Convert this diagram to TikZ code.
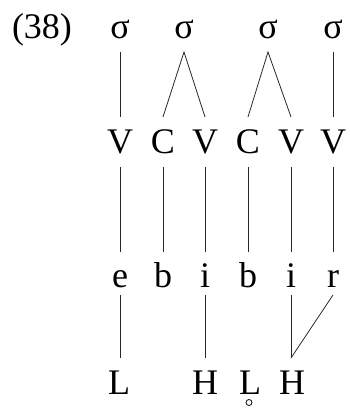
\documentclass[tikz,border=0pt]{standalone}
\usepackage{fontspec}
\setmainfont{Liberation Serif}
\usetikzlibrary{calc}
\begin{document}
\begin{tikzpicture}[x=1pt,y=-1pt,
  lab/.style={anchor=base,inner sep=0pt,font=\fontsize{36}{40}\selectfont},
  link/.style={line width=0.8pt,draw=black!85}]
\useasboundingbox (0,0) rectangle (350,410);
\node[lab] (ex) at (42,38) {(38)};
% syllables
\node[lab] (s1) at (120,38) {σ};
\node[lab] (s2) at (184,38) {σ};
\node[lab] (s3) at (268,38) {σ};
\node[lab] (s4) at (333,38) {σ};
% CV tier
\node[lab] (v1) at (120,153) {V};
\node[lab] (c2) at (163,153) {C};
\node[lab] (v3) at (205,153) {V};
\node[lab] (c4) at (248,153) {C};
\node[lab] (v5) at (291,153) {V};
\node[lab] (v6) at (333,153) {V};
% segments
\node[lab] (e1) at (120,287) {e};
\node[lab] (b2) at (163,287) {b};
\node[lab] (i3) at (205,287) {i};
\node[lab] (b4) at (248,287) {b};
\node[lab] (i5) at (291,287) {i};
\node[lab] (r6) at (333,287) {r};
% tones
\node[lab] (t1) at (119,394) {L};
\node[lab] (t2) at (205,394) {H};
\node[lab] (t3) at (250,394) {L};
\node[lab] (t4) at (292,394) {H};
% voiceless ring under the low tone
\draw[line width=0.8pt] ($(t3.base)+(-1,8.5)$) circle (3);
% sigma to CV
\draw[link] ($(s1.base)+(0,14)$) -- ($(v1.base)+(0,-36)$);
\draw[link] ($(c2.base)+(0,-36)$) -- ($(s2.base)+(0,14)$) -- ($(v3.base)+(0,-36)$);
\draw[link] ($(c4.base)+(0,-36)$) -- ($(s3.base)+(0,14)$) -- ($(v5.base)+(0,-36)$);
\draw[link] ($(s4.base)+(0,14)$) -- ($(v6.base)+(0,-36)$);
% CV to segments
\foreach \a/\b in {v1/e1,c2/b2,v3/i3,c4/b4,v5/i5,v6/r6}
  \draw[link] ($(\a.base)+(0,14)$) -- ($(\b.base)+(0,-35)$);
% segments to tones
\draw[link] ($(e1.base)+(0,8)$) -- ($(e1.base)+(0,71)$);
\draw[link] ($(i3.base)+(0,8)$) -- ($(t2.base)+(0,-36)$);
\coordinate (h4) at ($(i5.base)+(0,71)$);
\draw[link] ($(i5.base)+(0,8)$) -- (h4);
\draw[link] ($(r6.base)+(0,8)$) -- (h4);
\end{tikzpicture}
\end{document}
